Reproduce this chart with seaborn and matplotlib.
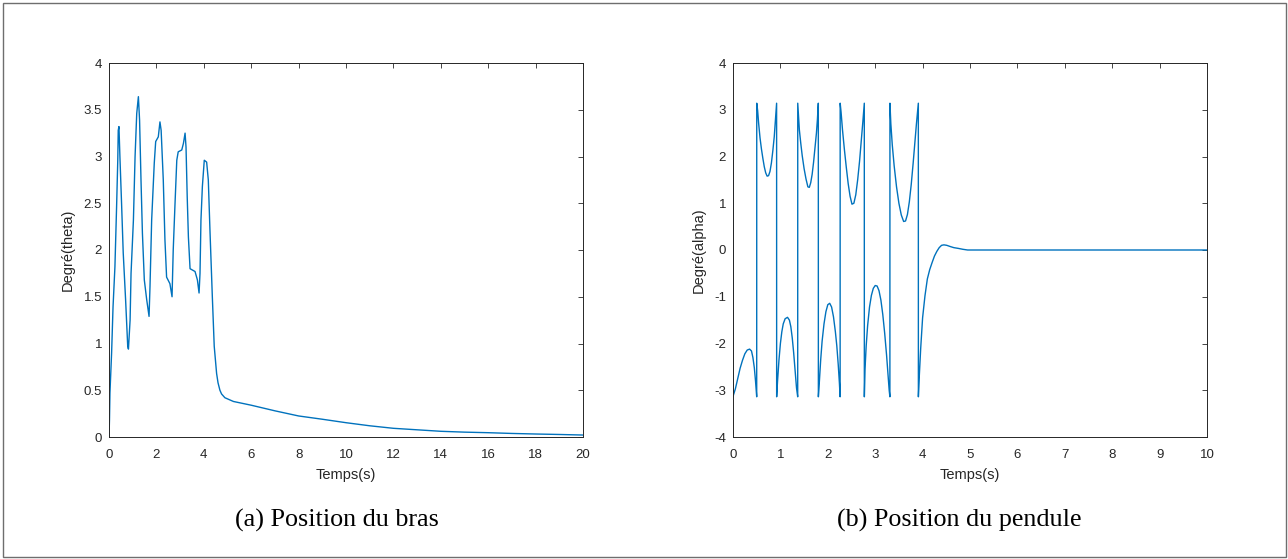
import matplotlib
matplotlib.use("Agg")
import matplotlib.pyplot as plt
from matplotlib.patches import Rectangle
import seaborn as sns

# ---------------- data ----------------
# (a) arm position theta vs time
t_bras = [0, 0.02, 0.04, 0.11, 0.17, 0.25, 0.32, 0.37, 0.39, 0.42, 0.46, 0.53, 0.60,
          0.70, 0.79, 0.82, 0.89, 0.93, 1.03, 1.10, 1.17, 1.24, 1.29, 1.35, 1.41, 1.49,
          1.59, 1.69, 1.73, 1.80, 1.91, 1.97, 2.08, 2.15, 2.20, 2.29, 2.36, 2.43, 2.57,
          2.66, 2.71, 2.78, 2.86, 2.92, 3.07, 3.14, 3.21, 3.25, 3.30, 3.35, 3.42, 3.63,
          3.73, 3.80, 3.84, 3.88, 3.94, 4.02, 4.12, 4.19, 4.26, 4.36, 4.44, 4.54, 4.60,
          4.68, 4.75, 4.89, 5.25, 6, 7, 8, 9, 10, 11, 12, 13, 14, 15, 16, 17, 18, 19, 20]
theta_bras = [0, 0.18, 0.47, 0.90, 1.39, 1.82, 2.46, 2.96, 3.28, 3.32, 3.00, 2.50, 1.97,
              1.47, 0.97, 0.94, 1.25, 1.75, 2.32, 3.00, 3.46, 3.64, 3.39, 2.75, 2.18, 1.68,
              1.47, 1.29, 1.61, 2.32, 2.93, 3.16, 3.21, 3.37, 3.28, 2.75, 2.11, 1.71, 1.64,
              1.50, 2.00, 2.46, 2.96, 3.05, 3.07, 3.14, 3.25, 3.10, 2.57, 2.14, 1.80, 1.77,
              1.68, 1.54, 1.75, 2.32, 2.68, 2.96, 2.94, 2.75, 2.21, 1.50, 0.97, 0.68, 0.58,
              0.50, 0.46, 0.42, 0.38, 0.34, 0.28, 0.225, 0.19, 0.153, 0.12, 0.093, 0.077,
              0.061, 0.052, 0.046, 0.038, 0.032, 0.027, 0.021]

# (b) pendulum position alpha vs time (wrapped to [-pi, pi])
t_pend = [0, 0.002, 0.01, 0.05, 0.10, 0.15, 0.20, 0.25, 0.30, 0.35, 0.39, 0.42, 0.45, 0.475, 0.50,
          0.501, 0.52, 0.54, 0.57, 0.60, 0.63, 0.66, 0.69, 0.72, 0.75, 0.78, 0.81, 0.84, 0.87,
          0.89, 0.905, 0.92,
          0.921, 0.94, 0.97, 1.00, 1.03, 1.06, 1.10, 1.15, 1.19, 1.22, 1.25, 1.28, 1.31, 1.34,
          1.365,
          1.366, 1.38, 1.40, 1.43, 1.46, 1.50, 1.54, 1.58, 1.61, 1.64, 1.67, 1.70, 1.73, 1.76,
          1.78, 1.80,
          1.801, 1.82, 1.85, 1.88, 1.92, 1.96, 2.00, 2.04, 2.08, 2.12, 2.16, 2.19, 2.22, 2.245,
          2.26,
          2.261, 2.28, 2.31, 2.35, 2.39, 2.43, 2.47, 2.51, 2.55, 2.59, 2.63, 2.67, 2.71, 2.74,
          2.77,
          2.771, 2.785, 2.81, 2.84, 2.88, 2.92, 2.96, 3.00, 3.04, 3.08, 3.12, 3.16, 3.20, 3.24,
          3.27, 3.295, 3.31,
          3.311, 3.33, 3.36, 3.40, 3.45, 3.50, 3.55, 3.60, 3.64, 3.68, 3.72, 3.76, 3.80, 3.84,
          3.87, 3.91,
          3.911, 3.93, 3.96, 4.00, 4.05, 4.10, 4.15, 4.20, 4.25, 4.30, 4.35, 4.40, 4.45, 4.51,
          4.58, 4.66, 4.75, 4.85, 4.95, 10]
alpha_pend = [3.14, -3.14, -3.10, -2.97, -2.75, -2.53, -2.36, -2.22, -2.14, -2.12, -2.16, -2.30,
              -2.52, -2.80, -3.14,
              3.14, 2.98, 2.72, 2.40, 2.16, 1.96, 1.78, 1.65, 1.58, 1.59, 1.68, 1.86, 2.12, 2.42,
              2.70, 2.92, 3.14,
              -3.14, -2.80, -2.35, -2.00, -1.75, -1.58, -1.47, -1.44, -1.50, -1.64, -1.88, -2.20,
              -2.58, -2.95, -3.14,
              3.14, 2.90, 2.57, 2.28, 2.02, 1.74, 1.52, 1.35, 1.34, 1.44, 1.62, 1.88, 2.18, 2.50,
              2.78, 3.14,
              -3.14, -2.85, -2.35, -1.95, -1.58, -1.32, -1.17, -1.14, -1.22, -1.43, -1.75, -2.05,
              -2.45, -2.85, -3.14,
              3.14, 2.95, 2.57, 2.15, 1.77, 1.42, 1.15, 0.98, 1.00, 1.18, 1.50, 1.90, 2.38, 2.75,
              3.14,
              -3.14, -2.55, -2.05, -1.62, -1.22, -0.97, -0.82, -0.76, -0.77, -0.87, -1.07, -1.38,
              -1.78, -2.25, -2.65, -3.00, -3.14,
              3.14, 2.70, 2.25, 1.80, 1.35, 1.00, 0.75, 0.61, 0.62, 0.76, 1.03, 1.40, 1.85, 2.35,
              2.70, 3.14,
              -3.14, -2.70, -2.10, -1.45, -0.98, -0.62, -0.42, -0.27, -0.13, -0.03, 0.05, 0.10,
              0.11, 0.10, 0.075, 0.05, 0.035, 0.015, 0.0, 0.0]

xticks_a = [0, 2, 4, 6, 8, 10, 12, 14, 16, 18, 20]
yticks_a = [0, 0.5, 1, 1.5, 2, 2.5, 3, 3.5, 4]
ylabels_a = ["0", "0.5", "1", "1.5", "2", "2.5", "3", "3.5", "4"]
xticks_b = [0, 1, 2, 3, 4, 5, 6, 7, 8, 9, 10]
yticks_b = [-4, -3, -2, -1, 0, 1, 2, 3, 4]
ylabels_b = ["-4", "-3", "-2", "-1", "0", "1", "2", "3", "4"]

xlabel = "Temps(s)"
ylabel_a = "Degré(theta)"
ylabel_b = "Degré(alpha)"
caption_a = "(a) Position du bras"
caption_b = "(b) Position du pendule"

# ---------------- styling ----------------
sns.set_style("white")
plt.rcParams["font.family"] = ["Liberation Sans", "DejaVu Sans"]
plt.rcParams["axes.unicode_minus"] = False

W, H = 1288, 559
fig = plt.figure(figsize=(W / 100, H / 100), dpi=100)
fig.patch.set_facecolor("white")

line_color = "#0072BD"
axis_color = "#262626"

ax1 = fig.add_axes([109 / W, 1 - 437 / H, 474 / W, 374 / H])
ax2 = fig.add_axes([733 / W, 1 - 437 / H, 474 / W, 374 / H])

sns.lineplot(x=t_bras, y=theta_bras, ax=ax1, color=line_color, linewidth=1.0,
             sort=False, estimator=None)
sns.lineplot(x=t_pend, y=alpha_pend, ax=ax2, color=line_color, linewidth=1.0,
             sort=False, estimator=None)

for ax, xt, yt, yl, ylab in [(ax1, xticks_a, yticks_a, ylabels_a, ylabel_a),
                              (ax2, xticks_b, yticks_b, ylabels_b, ylabel_b)]:
    ax.set_xlim(xt[0], xt[-1])
    ax.set_ylim(yt[0], yt[-1])
    ax.set_xticks(xt)
    ax.set_xticklabels([str(v) for v in xt])
    ax.set_yticks(yt)
    ax.set_yticklabels(yl)
    ax.tick_params(direction="in", top=True, right=True, length=3.5, width=0.6,
                   color=axis_color, labelcolor=axis_color, labelsize=9.5)
    ax.tick_params(axis="x", pad=8.5)
    ax.tick_params(axis="y", pad=5)
    for s in ax.spines.values():
        s.set_visible(True)
        s.set_color(axis_color)
        s.set_linewidth(0.7)
    ax.set_xlabel(xlabel, fontsize=10.5, color=axis_color, labelpad=5)
    ax.set_ylabel(ylab, fontsize=10.5, color=axis_color, labelpad=6)

fig.text(337 / W, 1 - 527 / H, caption_a, ha="center", va="baseline",
         fontsize=18.8, family=["Liberation Serif", "DejaVu Serif"], color="black")
fig.text(959 / W, 1 - 527 / H, caption_b, ha="center", va="baseline",
         fontsize=18.8, family=["Liberation Serif", "DejaVu Serif"], color="black")

fig.add_artist(Rectangle((2.5 / W, 2.5 / H), (W - 5) / W, (H - 5) / H,
                         transform=fig.transFigure, fill=False,
                         edgecolor="#6e6e6e", linewidth=1.0))

fig.savefig("out.png", dpi=100)
